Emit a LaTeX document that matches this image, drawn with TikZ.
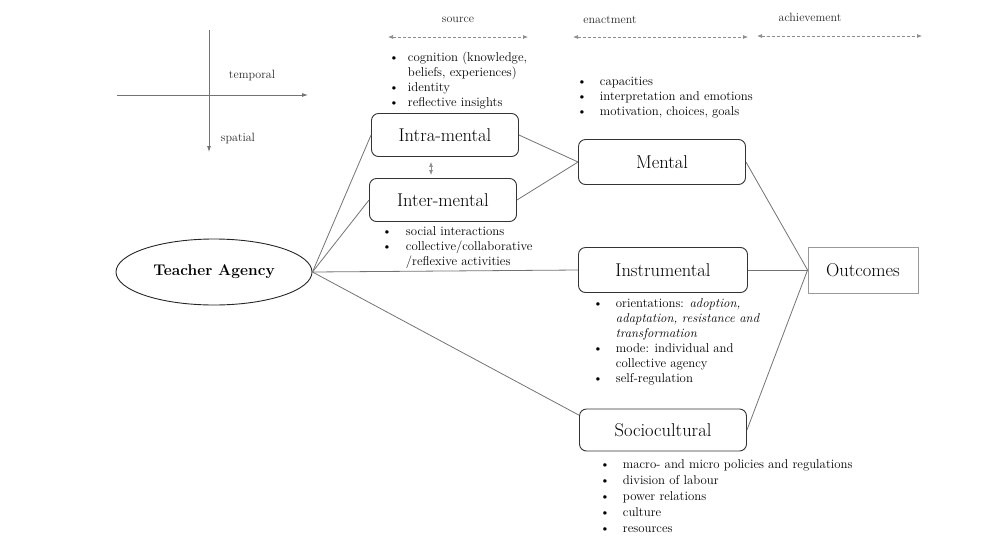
\documentclass[tikz,border=0pt]{standalone}
\usetikzlibrary{arrows.meta,shapes.geometric}

\tikzset{
  box/.style={draw=black!80, rounded corners=7pt, line width=0.9pt,
    minimum width=147pt, minimum height=43pt, font=\fontsize{18.5}{21}\selectfont},
  link/.style={draw=black!55, line width=0.8pt},
  axis/.style={draw=black!55, line width=0.8pt, -{Latex[length=6pt,width=4pt]}},
  span/.style={draw=black!45, line width=0.7pt, dash pattern=on 3pt off 2pt,
    {Latex[length=5pt,width=4pt]}-{Latex[length=5pt,width=4pt]}},
  blist/.style={anchor=north west, inner sep=0pt, align=left,
    font=\fontsize{12.8}{15}\selectfont},
  tag/.style={font=\fontsize{12}{14}\selectfont, text=black!85},
}

\begin{document}
\begin{tikzpicture}[x=1pt, y=-1pt]
  \useasboundingbox (0,0) rectangle (982,555);

  % Axes
  \coordinate (h0) at (117,95);
  \coordinate (h1) at (308,95);
  \coordinate (v0) at (209,30);
  \coordinate (v1) at (209,152);
  \draw[axis] (h0) -- (h1);
  \draw[axis] (v0) -- (v1);
  \node[tag] (tl) at (252,75) {temporal};
  \node[tag] (sl) at (238,138) {spatial};

  % Phases
  \coordinate (s0) at (388,37);
  \coordinate (s1) at (528,37);
  \coordinate (e0) at (573,37);
  \coordinate (e1) at (748,37);
  \coordinate (a0) at (757,36);
  \coordinate (a1) at (922,36);
  \draw[span] (s0) -- (s1);
  \draw[span] (e0) -- (e1);
  \draw[span] (a0) -- (a1);
  \node[tag] (src) at (458,20) {source};
  \node[tag] (ena) at (610,20) {enactment};
  \node[tag] (ach) at (810,17) {achievement};

  % Boxes
  \node[ellipse, draw=black!85, line width=0.9pt, minimum width=196pt,
    minimum height=66pt, font=\fontsize{15.5}{18}\selectfont\bfseries]
    (ta) at (214,272) {Teacher Agency};
  \node[box] (intra) at (445,135) {Intra-mental};
  \node[box] (inter) at (443,200) {Inter-mental};
  \node[box, minimum width=167pt, minimum height=45pt] (ment) at (662,162) {Mental};
  \node[box, minimum width=169pt, minimum height=45pt] (inst) at (663,270) {Instrumental};
  \node[box, minimum width=167pt, minimum height=42pt] (soc) at (663,430) {Sociocultural};
  \node[draw=black!40, line width=0.9pt, minimum width=110pt, minimum height=46pt,
    font=\fontsize{18.5}{21}\selectfont] (out) at (863,270) {Outcomes};

  % Links
  \draw[link] (ta.east) -- (intra.west);
  \draw[link] (ta.east) -- (inter.west);
  \draw[link] (ta.east) -- (inst.west);
  \draw[link] (ta.east) -- (soc.170);
  \draw[link] (intra.east) -- (ment.west);
  \draw[link] (inter.east) -- (ment.west);
  \draw[link] (ment.east) -- (out.west);
  \draw[link] (inst.east) -- (out.west);
  \draw[link] (soc.east) -- (out.west);
  \draw[span, solid, shorten <=5pt, shorten >=3pt]
    ([xshift=-14pt]intra.south) -- ([xshift=-14pt]intra.south |- inter.north);

  % Bullet lists
  \node[blist] (l1) at (389,51) {\begin{tabular}{@{}l@{\hspace{9pt}}l@{}}
    \textbullet & cognition (knowledge,\\
                & beliefs, experiences)\\
    \textbullet & identity\\
    \textbullet & reflective insights
  \end{tabular}};
  \node[blist] (l2) at (577,75) {\begin{tabular}{@{}l@{\hspace{13pt}}l@{}}
    \textbullet & capacities\\
    \textbullet & interpretation and emotions\\
    \textbullet & motivation, choices, goals
  \end{tabular}};
  \node[blist] (l3) at (382,225) {\begin{tabular}{@{}l@{\hspace{14pt}}l@{}}
    \textbullet & social interactions\\
    \textbullet & collective/collaborative\\
                & /reflexive activities
  \end{tabular}};
  \node[blist] (l4) at (593,297) {\begin{tabular}{@{}l@{\hspace{13pt}}l@{}}
    \textbullet & orientations: \textit{adoption,}\\
                & \textit{adaptation, resistance and}\\
                & \textit{transformation}\\
    \textbullet & mode: individual and\\
                & collective agency\\
    \textbullet & self-regulation
  \end{tabular}};
  \node[blist, font=\fontsize{12.8}{16}\selectfont] (l5) at (600,457) {\begin{tabular}{@{}l@{\hspace{13pt}}l@{}}
    \textbullet & macro- and micro policies and regulations\\
    \textbullet & division of labour\\
    \textbullet & power relations\\
    \textbullet & culture\\
    \textbullet & resources
  \end{tabular}};
\end{tikzpicture}
\end{document}
